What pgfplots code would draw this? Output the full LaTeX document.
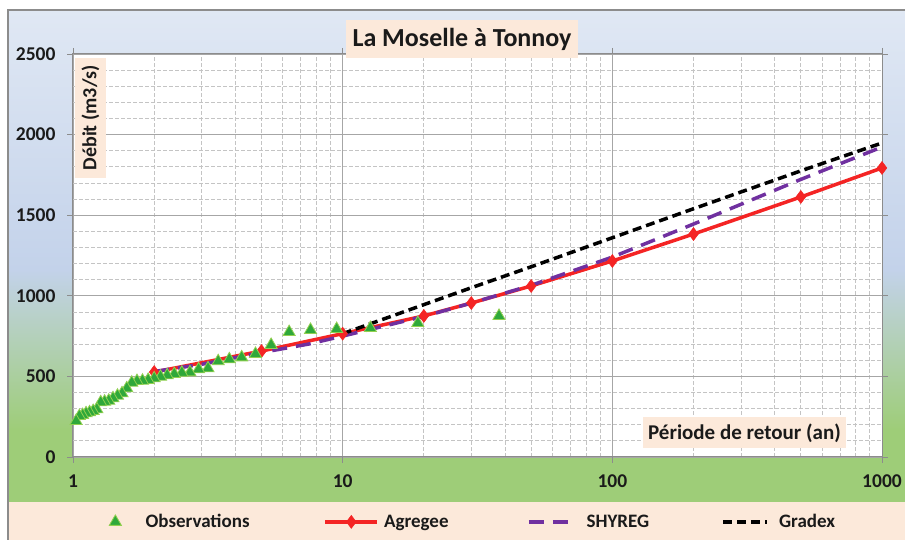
\documentclass[border=0pt]{standalone}
\usepackage{fontspec}
\setmainfont{Carlito}
\usepackage{pgfplots}
\pgfplotsset{compat=1.18}
\definecolor{peach}{HTML}{FCE9DA}
\definecolor{bgtop}{HTML}{E0E8F4}
\definecolor{bgmid}{HTML}{C3D2EA}
\definecolor{bggreen}{HTML}{9ECD78}
\definecolor{framegray}{HTML}{8C8C8C}
\definecolor{gridmajor}{HTML}{A6A6A6}
\definecolor{gridminor}{HTML}{C4C4C4}
\definecolor{axisgray}{HTML}{8C8C8C}
\definecolor{obsfill}{HTML}{2FA83A}
\definecolor{obsedge}{HTML}{92D050}
\definecolor{agred}{HTML}{F42424}
\definecolor{shypurple}{HTML}{7030A0}
\definecolor{txt}{HTML}{1A1A1A}
\pgfplotsset{
  obsleg/.style={legend image code/.code={\path (0pt,0pt) (48pt,0pt); \draw[##1] plot coordinates {(24pt,0pt)};}},
  agleg/.style={legend image code/.code={\draw[##1, mark repeat=2, mark phase=2] plot coordinates {(0pt,0pt) (26pt,0pt) (52pt,0pt)};}},
  shyleg/.style={legend image code/.code={\draw[##1] (0pt,0pt) -- (46pt,0pt);}},
  grleg/.style={legend image code/.code={\draw[##1] (0pt,0pt) -- (44pt,0pt);}},
}
\begin{document}
\begin{tikzpicture}[x=1pt,y=1pt]
\useasboundingbox (0,0) rectangle (905,540);
\fill[white] (0,0) rectangle (905,540);
\shade[top color=bgtop, bottom color=bgmid] (8,270) rectangle (905,530);
\shade[top color=bgmid, bottom color=bggreen] (8,110) rectangle (905,270.5);
\fill[bggreen] (8,38) rectangle (905,110.5);
\fill[peach] (8,0) rectangle (905,38);
\draw[framegray, line width=1.2pt] (8,0) -- (8,530) -- (905,530);
\begin{axis}[
  at={(73pt,83pt)}, anchor=south west, scale only axis,
  width=809pt, height=403pt,
  xmode=log, xmin=1, xmax=1000, ymin=0, ymax=2500,
  xtick={1,10,100,1000}, xticklabels={1,10,100,1000},
  minor xtick={2,3,4,5,6,7,8,9,20,30,40,50,60,70,80,90,200,300,400,500,600,700,800,900},
  ytick={0,500,1000,1500,2000,2500},
  minor ytick={100,200,300,400,600,700,800,900,1100,1200,1300,1400,1600,1700,1800,1900,2100,2200,2300,2400},
  grid=both,
  major grid style={gridmajor, line width=0.9pt},
  minor grid style={gridminor, dash pattern=on 4pt off 2pt, line width=0.8pt},
  axis line style={axisgray, line width=1pt},
  tick style={axisgray, line width=0.9pt},
  tick align=outside, major tick length=6pt, minor tick length=0pt,
  axis background/.style={fill=white},
  ticklabel style={font=\bfseries\fontsize{19.5}{19.5}\selectfont, text=txt},
  /pgf/number format/assume math mode=true,
  /pgf/number format/set thousands separator={},
  yticklabel style={xshift=-8pt},
  xticklabel style={yshift=-8pt},
  legend columns=4,
  legend cell align=left,
  legend style={at={(axis description cs:0.0222,-0.161)}, anchor=west,
    draw=none, fill=none, inner sep=0pt,
    font=\bfseries\fontsize{19}{19}\selectfont, text=txt,
    /tikz/every even column/.append style={column sep=0pt},
    /tikz/every odd column/.append style={column sep=0pt}},
]
\addlegendimage{only marks, mark=triangle*, mark size=7pt, mark options={fill=obsfill, draw=obsedge, line width=0.8pt}, obsleg}
\addlegendentry{\makebox[180pt][l]{\hspace{4pt}Observations}}

\addplot[agred, line width=3.5pt, mark=diamond*, mark size=6.5pt, mark options={fill=agred, draw=agred, line width=0.5pt, solid}, agleg]
coordinates {(2,527) (5,657) (10,765) (20,875) (30,955) (50,1061) (100,1216) (200,1383) (500,1613) (1000,1793)};
\addlegendentry{\makebox[144pt][l]{\hspace{3pt}Agregee}}

\addplot[shypurple, line width=3.5pt, dash pattern=on 15pt off 9pt, shyleg]
coordinates {(2,530) (3,575) (5,648) (7.5,701) (10,750) (20,872) (30,955) (50,1065) (100,1240) (200,1445) (500,1722) (1000,1923)};
\addlegendentry{\makebox[141pt][l]{\hspace{8pt}SHYREG}}

\addplot[black, line width=3.5pt, dash pattern=on 9pt off 5pt, grleg]
coordinates {(10,765) (20,945) (30,1050) (50,1180) (100,1360) (200,1540) (500,1775) (1000,1948)};
\addlegendentry{\hspace{8pt}Gradex}

\addplot[forget plot, only marks, mark=triangle*, mark size=7pt, mark options={fill=obsfill, draw=obsedge, line width=0.8pt}]
coordinates {
(38.0,875) (19.0,831) (12.667,800) (9.5,794) (7.6,788) (6.333,775) (5.429,695) (4.75,639)
(4.222,618) (3.8,606) (3.455,594) (3.167,550) (2.923,544) (2.714,525) (2.533,523) (2.375,515)
(2.235,507) (2.111,498) (2.0,488) (1.9,478) (1.810,473) (1.727,471) (1.652,461) (1.583,426)
(1.52,395) (1.462,380) (1.407,364) (1.357,349) (1.310,343) (1.267,339) (1.226,296) (1.188,285)
(1.152,277) (1.118,271) (1.086,260) (1.056,254) (1.027,223)
};
\end{axis}
\node[fill=peach, minimum width=232pt, minimum height=38pt, inner sep=0pt, text=txt,
  font=\bfseries\fontsize{26}{26}\selectfont] at (462,501) {La Moselle à Tonnoy};
\node[fill=peach, rotate=90, minimum width=120pt, minimum height=31pt, inner sep=0pt, text=txt,
  font=\bfseries\fontsize{20}{20}\selectfont] at (90.5,422) {Débit (m3/s)};
\node[fill=peach, minimum width=203pt, minimum height=31pt, inner sep=0pt, text=txt,
  font=\bfseries\fontsize{21}{21}\selectfont] at (744.5,107) {Période de retour (an)};
\end{tikzpicture}
\end{document}
